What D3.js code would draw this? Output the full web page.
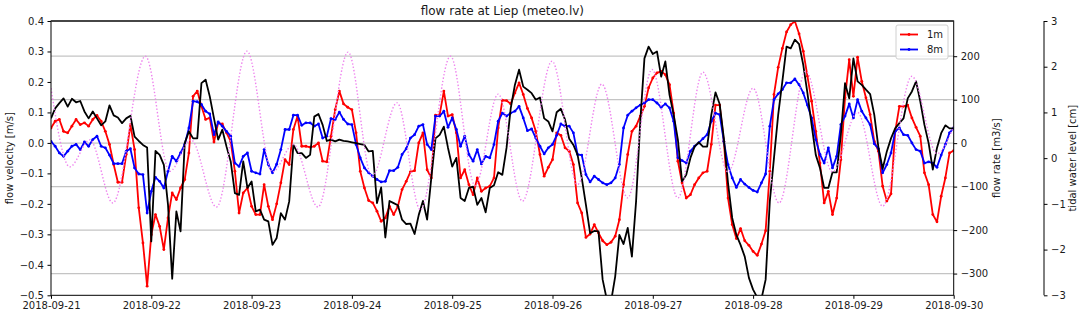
<!DOCTYPE html>
<html>
<head>
<meta charset="utf-8">
<script src="https://cdn.jsdelivr.net/npm/d3@7"></script>
<style>
    body { margin: 0; background: #fff; }
    text { font-family: "DejaVu Sans", sans-serif; fill: #1a1a1a; }
</style>
</head>
<body>
<div id="chart"></div>
<script>
// hourly readings, 2018-09-21 00:00 .. 2018-09-30 00:00
const dayLabels = ['2018-09-21', '2018-09-22', '2018-09-23', '2018-09-24', '2018-09-25',
    '2018-09-26', '2018-09-27', '2018-09-28', '2018-09-29', '2018-09-30'];

const velocity1m = [
    0.049, 0.071, 0.077, 0.038, 0.033, 0.055, 0.077, 0.060, 0.066, 0.055,
    0.077, 0.090, 0.071, 0.038, -0.005, -0.071, -0.129, -0.129, -0.038, 0.060,
    -0.022, -0.213, -0.328, -0.470, -0.301, -0.235, -0.274, -0.350, -0.246, -0.164,
    -0.186, -0.148, -0.120, -0.033, 0.153, 0.170, 0.120, 0.077, 0.082, 0.003,
    0.066, 0.062, 0.033, 0.005, -0.093, -0.230, -0.164, -0.148, -0.208, -0.235,
    -0.235, -0.137, -0.208, -0.252, -0.200, -0.131, -0.055, -0.071, 0.044, 0.088,
    -0.011, -0.011, -0.014, -0.011, 0.000, -0.060, -0.062, 0.022, 0.109, 0.170,
    0.128, 0.117, 0.109, 0.033, -0.093, -0.148, -0.189, -0.197, -0.224, -0.257,
    -0.246, -0.208, -0.235, -0.208, -0.153, -0.126, -0.095, -0.091, 0.000, 0.033,
    -0.088, -0.115, 0.091, 0.093, 0.170, 0.088, 0.093, 0.033, -0.115, -0.088,
    -0.137, -0.170, -0.115, -0.159, -0.148, -0.142, -0.115, 0.049, 0.140, 0.139,
    0.128, 0.164, 0.197, 0.159, 0.113, 0.082, 0.038, -0.038, -0.109, -0.080,
    -0.055, 0.033, 0.025, -0.016, -0.027, -0.071, -0.197, -0.230, -0.310, -0.299,
    -0.268, -0.295, -0.321, -0.334, -0.326, -0.306, -0.252, -0.137, -0.038, 0.038,
    0.055, 0.088, 0.120, 0.181, 0.213, 0.230, 0.235, 0.224, 0.191, 0.098,
    -0.060, -0.131, -0.181, -0.170, -0.137, -0.115, -0.098, -0.093, -0.005, 0.124,
    0.124, 0.005, -0.181, -0.268, -0.314, -0.281, -0.321, -0.336, -0.356, -0.369,
    -0.332, -0.288, -0.093, 0.159, 0.248, 0.310, 0.364, 0.388, 0.399, 0.358,
    0.301, 0.219, 0.137, 0.038, -0.066, -0.197, -0.159, -0.235, -0.181, -0.055,
    0.148, 0.273, 0.153, 0.281, 0.202, 0.148, 0.093, 0.005, -0.027, -0.142,
    -0.191, -0.167, 0.038, 0.120, 0.120, 0.124, 0.082, 0.051, 0.022, -0.098,
    -0.137, -0.235, -0.259, -0.175, -0.115, -0.033, -0.025
];

const velocity8m = [
    0.005, -0.011, -0.033, -0.044, -0.027, -0.011, -0.005, -0.022, 0.003, -0.011,
    0.011, 0.022, -0.011, -0.016, -0.040, -0.068, -0.068, -0.068, -0.027, -0.019,
    -0.082, -0.102, -0.104, -0.230, -0.159, -0.113, -0.126, -0.148, -0.093, -0.044,
    -0.060, -0.033, -0.005, 0.049, 0.137, 0.135, 0.126, 0.104, 0.095, 0.027,
    0.069, 0.055, 0.038, 0.022, -0.066, -0.077, -0.044, -0.033, -0.093, -0.098,
    -0.102, -0.022, -0.071, -0.098, -0.070, -0.022, 0.044, 0.044, 0.091, 0.091,
    0.058, 0.066, 0.066, 0.055, 0.062, 0.016, 0.022, 0.080, 0.077, 0.101,
    0.077, 0.062, 0.060, -0.005, -0.049, -0.082, -0.098, -0.109, -0.120, -0.128,
    -0.126, -0.091, -0.091, -0.080, -0.038, -0.019, 0.016, 0.027, 0.055, 0.060,
    -0.005, -0.022, 0.088, 0.088, 0.104, 0.051, 0.082, 0.044, -0.011, 0.022,
    -0.038, -0.060, -0.022, -0.069, -0.044, -0.049, -0.005, 0.071, 0.098, 0.088,
    0.098, 0.104, 0.120, 0.082, 0.040, 0.046, 0.016, -0.011, -0.036, -0.016,
    -0.005, 0.025, 0.062, 0.055, 0.055, 0.033, -0.038, -0.040, -0.104, -0.128,
    -0.109, -0.120, -0.131, -0.137, -0.131, -0.115, -0.071, 0.049, 0.091, 0.104,
    0.115, 0.124, 0.131, 0.142, 0.142, 0.131, 0.117, 0.128, 0.115, 0.071,
    -0.049, -0.058, -0.066, -0.027, -0.011, 0.000, 0.014, 0.027, 0.071, 0.098,
    0.093, 0.005, -0.071, -0.115, -0.146, -0.120, -0.135, -0.146, -0.156, -0.161,
    -0.131, -0.102, 0.055, 0.142, 0.161, 0.175, 0.197, 0.197, 0.210, 0.191,
    0.164, 0.124, 0.082, 0.011, -0.038, -0.066, -0.016, -0.082, -0.044, 0.060,
    0.088, 0.128, 0.082, 0.142, 0.104, 0.082, 0.060, -0.003, -0.019, -0.098,
    -0.071, -0.033, 0.038, 0.049, 0.027, 0.025, 0.000, -0.022, -0.027, -0.066,
    -0.062, -0.066, -0.080, -0.040, -0.005, 0.033, 0.049
];

const flowRate = [
    57, 80, 92, 103, 84, 102, 94, 97, 73, 57,
    73, 57, 41, 50, 87, 64, 59, 46, 57, 63,
    15, 5, -4, -10, -226, -18, -27, -50, -142, -312,
    -157, -203, 0, 27, 11, 11, 138, 146, 107, 57,
    8, 31, -8, -42, -115, -119, -42, -103, -88, -157,
    -153, -176, -180, -234, -218, -161, -176, -134, -4, -23,
    -23, -34, -27, 61, 67, 42, 5, 8, 4, 8,
    5, 4, 2, 0, -2, -4, -19, -18, -138, -102,
    -217, -133, -138, -143, -176, -186, -185, -209, -165, -133,
    -176, -80, 11, 19, 38, -11, -54, -34, -126, -133,
    -103, -100, -142, -126, -159, -103, -97, -67, -73, -11,
    80, 134, 169, 130, 123, 115, 100, 105, 57, 50,
    27, 71, 79, 54, 10, -4, -27, -80, -142, -207,
    -202, -203, -314, -360, -365, -307, -211, -232, -195, -261,
    -134, 50, 195, 222, 205, 211, 153, 188, 111, 65,
    8, -88, -73, -34, -8, 2, -8, -8, 65, 117,
    90, 11, -92, -172, -211, -234, -261, -310, -337, -355,
    -358, -314, -134, -34, 65, 142, 222, 218, 238, 228,
    180, 115, 42, -27, -57, -103, -103, -67, -67, 19,
    138, 103, 195, 142, 134, 123, 113, 65, -11, -59,
    -19, 11, 34, 46, 57, 103, 119, 142, 96, 42,
    0, -61, -11, 23, 41, 34, 34
];

// tidal level, turning points (hour from start, level)
const tideHours = [0, 4.5, 9.3, 14.8, 22.6, 28.4, 33.5, 39.6, 46.9, 53, 58, 63.9, 71.1, 76.8,
    82.8, 88.4, 95.6, 101.5, 107, 112.8, 119.9, 126, 131.8, 138, 143.8, 150, 156, 162,
    168, 174.2, 180.6, 187, 193, 199, 206, 212, 216];
const tideLevel = [1.53, -0.19, 0.40, -0.98, 2.23, -0.29, 0.40, -1.07, 2.34, -0.30, 0.30, -1.07, 2.32, -0.40,
    1.21, -1.13, 2.23, -0.60, 1.40, -0.94, 2.12, -0.58, 1.62, -0.87, 1.94, -0.87, 1.88, -0.30,
    1.53, -0.98, 1.90, -0.30, 1.00, -1.05, 1.79, 0.10, 0.70];

const velocityTicks = [0.4, 0.3, 0.2, 0.1, 0.0, -0.1, -0.2, -0.3, -0.4, -0.5];
const flowTicks = [200, 100, 0, -100, -200, -300];
const tideTicks = [3, 2, 1, 0, -1, -2, -3];

const width = 1084,
    height = 315,
    plot = {left: 51, right: 953.7, top: 21, bottom: 295.3},
    tideAxisX = 1044;

const t0 = Date.UTC(2018, 8, 21);
const toDate = (h) => new Date(t0 + h * 3600 * 1000);

const svg = d3.select('#chart').append('svg')
    .attr('width', width)
    .attr('height', height);

const x = d3.scaleUtc().domain([toDate(0), toDate(216)]).range([plot.left, plot.right]);
const yVel = d3.scaleLinear().domain([-0.5, 0.4]).range([plot.bottom, plot.top]);
const yFlow = d3.scaleLinear().domain([-350, 281]).range([plot.bottom, plot.top]);
const yTide = d3.scaleLinear().domain([-3, 3]).range([plot.bottom, plot.top]);

svg.append('clipPath').attr('id', 'clip')
    .append('rect')
    .attr('x', plot.left).attr('y', plot.top)
    .attr('width', plot.right - plot.left).attr('height', plot.bottom - plot.top);

// grid comes from the flow-rate axis
svg.append('g')
    .selectAll('line')
    .data(flowTicks)
    .enter()
    .append('line')
    .attr('x1', plot.left).attr('x2', plot.right)
    .attr('y1', (d) => yFlow(d)).attr('y2', (d) => yFlow(d))
    .attr('stroke', '#c4c4c4')
    .attr('stroke-width', 1.2);

const lines = svg.append('g').attr('clip-path', 'url(#clip)');

function drawVelocity(values, color) {
    let pts = values.map((v, i) => [toDate(i), v]);
    lines.append('path')
        .datum(pts)
        .attr('fill', 'none')
        .attr('stroke', color)
        .attr('stroke-width', 1.8)
        .attr('stroke-linejoin', 'round')
        .attr('d', d3.line().x((d) => x(d[0])).y((d) => yVel(d[1])));
    lines.append('g')
        .selectAll('circle')
        .data(pts)
        .enter()
        .append('circle')
        .attr('cx', (d) => x(d[0]))
        .attr('cy', (d) => yVel(d[1]))
        .attr('r', 1.4)
        .attr('fill', color);
}

drawVelocity(velocity1m, 'red');
drawVelocity(velocity8m, 'blue');

lines.append('path')
    .datum(flowRate.map((q, i) => [toDate(i), q]))
    .attr('fill', 'none')
    .attr('stroke', 'black')
    .attr('stroke-width', 1.8)
    .attr('stroke-linejoin', 'round')
    .attr('d', d3.line().x((d) => x(d[0])).y((d) => yFlow(d[1])));

lines.append('path')
    .datum(tideHours.map((h, i) => [toDate(h), tideLevel[i]]))
    .attr('fill', 'none')
    .attr('stroke', 'violet')
    .attr('stroke-width', 1.4)
    .attr('stroke-dasharray', '1.4,2')
    .attr('d', d3.line().curve(d3.curveMonotoneX).x((d) => x(d[0])).y((d) => yTide(d[1])));

// axes
function styleAxis(g) {
    g.attr('font-family', '"DejaVu Sans", sans-serif').attr('font-size', 10);
    g.select('.domain').remove();
    g.selectAll('.tick line').attr('stroke', '#000');
    g.selectAll('.tick text').attr('fill', '#1a1a1a');
}

svg.append('g')
    .attr('transform', `translate(0, ${plot.bottom})`)
    .call(d3.axisBottom(x)
        .tickValues(dayLabels.map((d, i) => toDate(24 * i)))
        .tickFormat(d3.utcFormat('%Y-%m-%d'))
        .tickSize(3.5).tickPadding(3.5))
    .call(styleAxis);

svg.append('g')
    .attr('transform', `translate(${plot.left}, 0)`)
    .call(d3.axisLeft(yVel).tickValues(velocityTicks).tickFormat(d3.format('.1f'))
        .tickSize(3.5).tickPadding(3.5))
    .call(styleAxis);

svg.append('g')
    .attr('transform', `translate(${plot.right}, 0)`)
    .call(d3.axisRight(yFlow).tickValues(flowTicks).tickFormat(d3.format('d'))
        .tickSize(3.5).tickPadding(3.5))
    .call(styleAxis);

svg.append('g')
    .attr('transform', `translate(${tideAxisX}, 0)`)
    .call(d3.axisRight(yTide).tickValues(tideTicks).tickFormat(d3.format('d'))
        .tickSize(3.5).tickPadding(3.5))
    .call(styleAxis);

// spines
const spines = svg.append('g').attr('stroke', '#000').attr('fill', 'none');
spines.append('rect')
    .attr('x', plot.left).attr('y', plot.top)
    .attr('width', plot.right - plot.left).attr('height', plot.bottom - plot.top)
    .attr('stroke-width', 1);
spines.append('line')
    .attr('x1', plot.left).attr('x2', plot.right)
    .attr('y1', plot.top).attr('y2', plot.top)
    .attr('stroke', '#333').attr('stroke-width', 1.6);
spines.append('line')
    .attr('x1', tideAxisX).attr('x2', tideAxisX)
    .attr('y1', plot.top).attr('y2', plot.bottom);

// labels
svg.append('text')
    .attr('x', (plot.left + plot.right) / 2).attr('y', 15)
    .attr('text-anchor', 'middle').attr('font-size', 12)
    .text('flow rate at Liep (meteo.lv)');

const midY = (plot.top + plot.bottom) / 2;
[[13, 'flow velocity [m/s]'], [1000, 'flow rate [m3/s]'], [1076, 'tidal water level [cm]']]
    .forEach(([lx, label]) => {
        svg.append('text')
            .attr('transform', `translate(${lx}, ${midY}) rotate(-90)`)
            .attr('text-anchor', 'middle').attr('font-size', 10)
            .text(label);
    });

// legend
let legend = svg.append('g').attr('transform', 'translate(896, 25)');
legend.append('rect')
    .attr('width', 52).attr('height', 34).attr('rx', 2)
    .attr('fill', 'white').attr('fill-opacity', 0.8)
    .attr('stroke', '#d0d0d0');
let entry = legend.selectAll('g.entry')
    .data([['1m', 'red'], ['8m', 'blue']])
    .enter()
    .append('g')
    .attr('class', 'entry')
    .attr('transform', (d, i) => `translate(0, ${9.5 + 15 * i})`);
entry.append('line')
    .attr('x1', 4).attr('x2', 22)
    .attr('stroke', (d) => d[1]).attr('stroke-width', 1.8);
entry.append('circle')
    .attr('cx', 13).attr('r', 1.4).attr('fill', (d) => d[1]);
entry.append('text')
    .attr('x', 31).attr('y', 3.6).attr('font-size', 10)
    .text((d) => d[0]);
</script>
</body>
</html>
